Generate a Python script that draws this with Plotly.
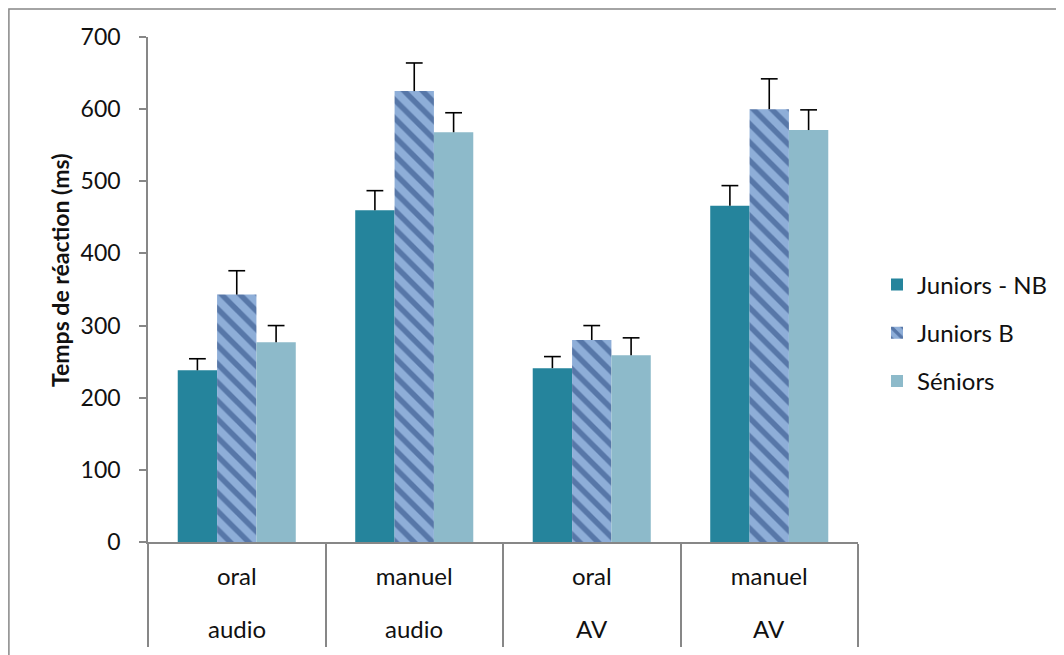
import plotly.graph_objects as go

categories = ["oral audio", "manuel audio", "oral AV", "manuel AV"]
inner_labels = ["oral", "manuel", "oral", "manuel"]
outer_labels = ["audio", "audio", "AV", "AV"]

series_names = ["Juniors - NB", "Juniors B", "Séniors"]
juniors_nb = [238, 460, 241, 466]
juniors_b = [343, 625, 280, 600]
seniors = [277, 568, 259, 571]

err_nb = [16, 27, 16, 28]
err_b = [33, 39, 20, 42]
err_sen = [23, 27, 24, 28]

FONT = "Lato"
TXT = "#111111"
GREY = "#878787"

# screen coordinates of the plot area (page has an 8px body margin)
OFF = 8
L, R, T, B = 148, 858, 37, 542
W, H = 1064, 655

def px(xs):
    return (xs - L) / (R - L)

def py(ys):
    return (B - ys) / (B - T)

fig = go.Figure()

def stem(vals):
    return dict(type="data", symmetric=False, array=vals, arrayminus=[0] * len(vals),
                color="#000000", thickness=1.6, width=0)

fig.add_trace(go.Bar(name=series_names[0], x=categories, y=juniors_nb,
                     marker=dict(color="#25849C", line=dict(width=0)),
                     error_y=stem(err_nb), legendgroup="a"))
fig.add_trace(go.Bar(name=series_names[1], x=categories, y=juniors_b,
                     marker=dict(color="#8EAED8", line=dict(width=0),
                                 pattern=dict(shape="\\", fgcolor="#1F3F78", bgcolor="#8EAED8",
                                              size=13, solidity=0.42, fillmode="overlay")),
                     error_y=stem(err_b), legendgroup="b"))
fig.add_trace(go.Bar(name=series_names[2], x=categories, y=seniors,
                     marker=dict(color="#8DBACA", line=dict(width=0)),
                     error_y=stem(err_sen), legendgroup="c"))

# error-bar caps (top only)
for vals, errs in [(juniors_nb, err_nb), (juniors_b, err_b), (seniors, err_sen)]:
    fig.add_trace(go.Scatter(x=categories, y=[v + e for v, e in zip(vals, errs)],
                             mode="markers", showlegend=False, hoverinfo="skip",
                             marker=dict(symbol="line-ew", size=12, color="#000000",
                                         line=dict(color="#000000", width=1.6))))

fig.update_layout(
    width=W, height=H,
    margin=dict(l=L - OFF, r=W - (R - OFF), t=T - OFF, b=H - (B - OFF), autoexpand=False),
    paper_bgcolor="white", plot_bgcolor="white",
    barmode="group", bargap=0.335, bargroupgap=0,
    scattermode="group", scattergap=0.335,
    font=dict(family=FONT, size=24, color=TXT),
    showlegend=True,
    legend=dict(x=px(877), y=py(333), xanchor="left", yanchor="middle",
                font=dict(family=FONT, size=24, color=TXT),
                tracegroupgap=14, itemwidth=30, bgcolor="rgba(0,0,0,0)"),
    xaxis=dict(type="category", categoryorder="array", categoryarray=categories,
               tickvals=categories, ticktext=inner_labels,
               tickson="boundaries", ticks="outside", ticklen=103, tickwidth=1.5,
               tickcolor=GREY, showline=True, linecolor=GREY, linewidth=1.5,
               ticklabelstandoff=12, showgrid=False, zeroline=False,
               tickfont=dict(family=FONT, size=24, color=TXT)),
    yaxis=dict(range=[0, 700], dtick=100, ticks="outside", ticklen=7, tickwidth=1.5,
               tickcolor=GREY, showline=True, linecolor=GREY, linewidth=1.5,
               showgrid=False, zeroline=False, ticklabelstandoff=14,
               tickfont=dict(family=FONT, size=23, color=TXT)),
)

# second row of category labels
for cat, lab in zip(categories, outer_labels):
    fig.add_annotation(text=lab, x=cat, xref="x", y=py(628), yref="paper",
                       showarrow=False, xanchor="center", yanchor="middle",
                       font=dict(family=FONT, size=24, color=TXT))

# y-axis title
fig.add_annotation(text="<b>Temps de réaction (ms)</b>", textangle=-90, showarrow=False,
                   xref="paper", yref="paper", x=px(60), y=py(270),
                   xanchor="center", yanchor="middle",
                   font=dict(family=FONT, size=23, color=TXT))

# outer chart-area border (left and top visible)
fig.add_shape(type="rect", xref="paper", yref="paper",
              x0=px(OFF + 0.9), x1=px(W + 20),
              y0=py(H + 20), y1=py(OFF + 0.9),
              line=dict(color=GREY, width=1.5), fillcolor="rgba(0,0,0,0)", layer="below")

fig.write_html("out.html")
